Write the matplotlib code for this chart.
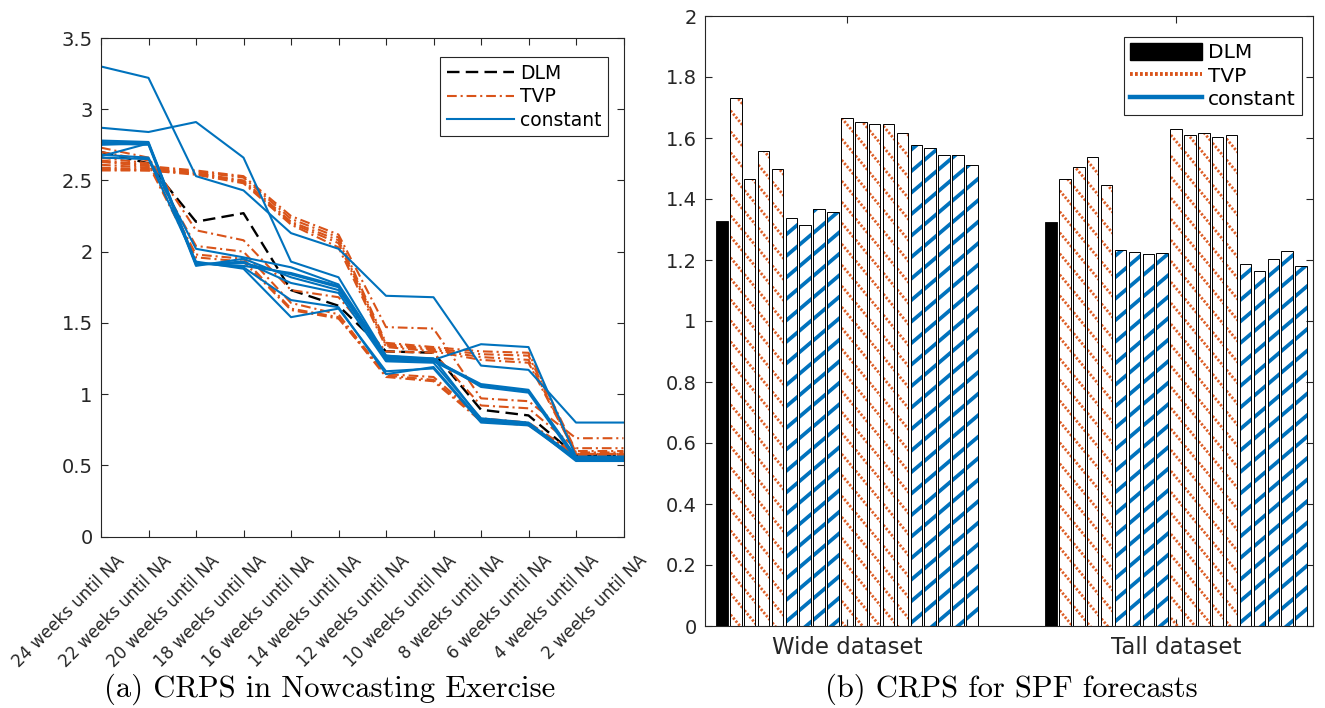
import numpy as np
import matplotlib
matplotlib.use('Agg')
import matplotlib.pyplot as plt
from matplotlib.lines import Line2D
from matplotlib.patches import Patch
from matplotlib.collections import LineCollection
from matplotlib.ticker import FuncFormatter
from matplotlib.transforms import ScaledTranslation

plt.rcParams['font.family'] = ['DejaVu Sans']
plt.rcParams['lines.scale_dashes'] = False

BLUE = '#0072BD'
ORANGE = '#D95319'
AXC = '#262626'

# ---------------- data: panel (a) ----------------
horizons = ['24 weeks until NA', '22 weeks until NA', '20 weeks until NA',
            '18 weeks until NA', '16 weeks until NA', '14 weeks until NA',
            '12 weeks until NA', '10 weeks until NA', '8 weeks until NA',
            '6 weeks until NA', '4 weeks until NA', '2 weeks until NA']

dlm_nowcast = [2.70, 2.62, 2.21, 2.27, 1.73, 1.62, 1.30, 1.29, 0.89, 0.85, 0.57, 0.57]

tvp_nowcast_1 = [2.73, 2.66, 2.15, 2.08, 1.73, 1.68, 1.30, 1.29, 0.92, 0.90, 0.62, 0.62]
tvp_nowcast_2 = [2.70, 2.64, 2.04, 2.00, 1.64, 1.56, 1.13, 1.10, 0.82, 0.79, 0.58, 0.58]
tvp_nowcast_3 = [2.66, 2.62, 1.98, 1.95, 1.60, 1.54, 1.12, 1.09, 0.81, 0.78, 0.57, 0.57]
tvp_nowcast_4 = [2.64, 2.61, 1.96, 1.93, 1.59, 1.53, 1.14, 1.12, 0.83, 0.80, 0.58, 0.58]
tvp_nowcast_5 = [2.63, 2.60, 2.57, 2.53, 2.25, 2.12, 1.47, 1.46, 0.97, 0.95, 0.69, 0.69]
tvp_nowcast_6 = [2.61, 2.59, 2.56, 2.52, 2.23, 2.10, 1.36, 1.33, 1.30, 1.29, 0.60, 0.60]
tvp_nowcast_7 = [2.59, 2.58, 2.55, 2.50, 2.21, 2.08, 1.35, 1.32, 1.28, 1.27, 0.59, 0.59]
tvp_nowcast_8 = [2.58, 2.57, 2.55, 2.49, 2.20, 2.06, 1.34, 1.31, 1.26, 1.24, 0.58, 0.58]
tvp_nowcast_9 = [2.57, 2.57, 2.54, 2.48, 2.19, 2.03, 1.33, 1.30, 1.24, 1.22, 0.58, 0.58]
tvp_nowcast = [tvp_nowcast_1, tvp_nowcast_2, tvp_nowcast_3, tvp_nowcast_4, tvp_nowcast_5,
               tvp_nowcast_6, tvp_nowcast_7, tvp_nowcast_8, tvp_nowcast_9]

const_nowcast_1 = [3.30, 3.22, 2.53, 2.43, 2.13, 2.02, 1.69, 1.68, 1.20, 1.17, 0.80, 0.80]
const_nowcast_2 = [2.87, 2.84, 2.91, 2.66, 1.93, 1.82, 1.27, 1.24, 1.35, 1.33, 0.56, 0.56]
const_nowcast_3 = [2.78, 2.77, 1.92, 1.90, 1.85, 1.76, 1.25, 1.24, 1.07, 1.03, 0.56, 0.56]
const_nowcast_4 = [2.77, 2.76, 1.91, 1.92, 1.84, 1.75, 1.24, 1.23, 1.06, 1.02, 0.55, 0.55]
const_nowcast_5 = [2.76, 2.75, 1.90, 1.95, 1.82, 1.73, 1.26, 1.25, 1.05, 1.01, 0.54, 0.54]
const_nowcast_6 = [2.68, 2.66, 2.02, 1.96, 1.89, 1.77, 1.27, 1.25, 0.82, 0.79, 0.55, 0.55]
const_nowcast_7 = [2.66, 2.65, 1.93, 1.88, 1.54, 1.60, 1.16, 1.18, 0.80, 0.78, 0.54, 0.54]
const_nowcast_8 = [2.67, 2.76, 1.92, 1.89, 1.66, 1.61, 1.14, 1.19, 0.81, 0.79, 0.53, 0.53]
const_nowcast_9 = [2.75, 2.76, 1.91, 1.93, 1.78, 1.71, 1.23, 1.22, 0.83, 0.80, 0.55, 0.55]
const_nowcast = [const_nowcast_1, const_nowcast_2, const_nowcast_3, const_nowcast_4,
                 const_nowcast_5, const_nowcast_6, const_nowcast_7, const_nowcast_8,
                 const_nowcast_9]

# ---------------- data: panel (b) ----------------
datasets = ['Wide dataset', 'Tall dataset']
spf_models = ['DLM'] + ['TVP'] * 4 + ['constant'] * 4 + ['TVP'] * 5 + ['constant'] * 5
wide_crps = [1.327, 1.730, 1.467, 1.557, 1.499, 1.337, 1.315, 1.366, 1.356,
             1.666, 1.651, 1.645, 1.645, 1.615, 1.576, 1.566, 1.543, 1.543, 1.510]
tall_crps = [1.324, 1.464, 1.505, 1.537, 1.446, 1.233, 1.225, 1.219, 1.222,
             1.631, 1.609, 1.615, 1.602, 1.609, 1.186, 1.164, 1.204, 1.230, 1.181]
spf_values = [wide_crps, tall_crps]

W, H = 1325, 708
fig = plt.figure(figsize=(W / 100, H / 100), dpi=100)


def style_axes(ax):
    for s in ax.spines.values():
        s.set_color(AXC)
        s.set_linewidth(0.8)
    ax.tick_params(direction='in', top=True, right=True, length=5, width=0.8,
                   color=AXC, labelcolor=AXC, labelsize=14, pad=6)


# ---------------- panel (a) ----------------
axL = fig.add_axes([101 / W, (H - 536.5) / H, 522.5 / W, 498.5 / H])
xk = np.arange(1, len(horizons) + 1)
axL.plot(xk, dlm_nowcast, color='black', lw=1.7, ls=(0, (9, 4.5)), label='DLM')
for i, s in enumerate(tvp_nowcast):
    axL.plot(xk, s, color=ORANGE, lw=1.5, ls=(0, (7, 2.8, 1.5, 2.8)),
             label='TVP' if i == 0 else None)
for i, s in enumerate(const_nowcast):
    axL.plot(xk, s, color=BLUE, lw=1.5, label='constant' if i == 0 else None)
axL.set_xlim(1, 12)
axL.set_ylim(0, 3.5)
axL.set_yticks(np.arange(0, 3.51, 0.5))
axL.yaxis.set_major_formatter(FuncFormatter(lambda v, p: f'{v:g}'))
axL.set_xticks(xk)
axL.set_xticklabels([])
style_axes(axL)
off = ScaledTranslation(14 / 100, -15 / 100, fig.dpi_scale_trans)
for x, lab in zip(xk, horizons):
    axL.text(x, 0, lab, transform=axL.get_xaxis_transform() + off, rotation=45,
             ha='right', va='top', rotation_mode='anchor', fontsize=12, color=AXC)
legL = axL.legend(loc='upper right', bbox_to_anchor=(0.970, 0.962), borderaxespad=0,
                  fontsize=13.5, handlelength=3.6, fancybox=False, edgecolor=AXC,
                  framealpha=1, borderpad=0.35, labelspacing=0.25, handletextpad=0.3)
legL.get_frame().set_linewidth(0.8)

# ---------------- panel (b) ----------------
axR = fig.add_axes([705 / W, (H - 626) / H, 608 / W, 610 / H])
nb = len(spf_models)
pitch = 0.0422
bw = 0.035
offsets = (np.arange(nb) - (nb - 1) / 2) * pitch

fills = []
for g, vals in enumerate(spf_values):
    for i, (m, v) in enumerate(zip(spf_models, vals)):
        x = g + 1 + offsets[i]
        if m == 'DLM':
            axR.bar(x, v, bw, color='black', edgecolor='black', lw=0.6, zorder=3)
        else:
            b = axR.bar(x, v, bw, color='white', edgecolor='none', zorder=1)[0]
            fills.append((b, m))
            axR.bar(x, v, bw, fill=False, edgecolor='black', lw=0.7, zorder=3)

axR.set_xlim(0.569, 2.416)
axR.set_ylim(0, 2)


def hatch(ax, patch, slope, spacing, **kw):
    x0, y0 = patch.get_x(), patch.get_y()
    w, h = patch.get_width(), patch.get_height()
    (X0, Y0), (X1, Y1) = ax.transData.transform([(x0, y0), (x0 + w, y0 + h)])
    AX0, AY0 = ax.transAxes.transform((0, 0))
    yA = AY0 + slope * (X0 - 2 - AX0)
    yB = AY0 + slope * (X1 + 2 - AX0)
    lo, hi = min(yA, yB), max(yA, yB)
    kmin = int(np.floor((Y0 - hi) / spacing)) - 1
    kmax = int(np.ceil((Y1 - lo) / spacing)) + 1
    inv = ax.transData.inverted()
    segs = [inv.transform([(X0 - 2, yA + k * spacing), (X1 + 2, yB + k * spacing)])
            for k in range(kmin, kmax + 1)]
    lc = LineCollection(segs, zorder=2, **kw)
    ax.add_collection(lc, autolim=False)
    lc.set_clip_path(patch)


for b, m in fills:
    if m == 'TVP':
        hatch(axR, b, -1.2, 21.0, colors='#DD5F28', linewidths=2.0,
              linestyles=[(0, (1.6, 1.3))])
    else:
        hatch(axR, b, 0.85, 21.5, colors=BLUE, linewidths=2.7)

axR.set_xticks([1, 2])
axR.set_xticklabels(datasets)
axR.set_yticks(np.round(np.arange(0, 2.01, 0.2), 1))
axR.yaxis.set_major_formatter(FuncFormatter(lambda v, p: f'{v:g}'))
style_axes(axR)
axR.tick_params(axis='x', labelsize=16.5, pad=7)

handles = [Patch(facecolor='black', edgecolor='black'),
           Line2D([], [], color=ORANGE, lw=2.8, ls=(0, (2, 1.6))),
           Line2D([], [], color=BLUE, lw=3.2)]
legR = axR.legend(handles, ['DLM', 'TVP', 'constant'], loc='upper right',
                  bbox_to_anchor=(0.982, 0.9656), borderaxespad=0, fontsize=14.5,
                  handlelength=3.6, handleheight=0.9, fancybox=False, edgecolor=AXC,
                  framealpha=1, borderpad=0.3, labelspacing=0.2, handletextpad=0.3)
legR.get_frame().set_linewidth(0.8)

# captions
fig.text(329.5 / W, (H - 689) / H, '(a) CRPS in Nowcasting Exercise', ha='center',
         va='center', fontsize=22, family='cmr10', color='black')
fig.text(1011 / W, (H - 689) / H, '(b) CRPS for SPF forecasts', ha='center',
         va='center', fontsize=22, family='cmr10', color='black')

fig.savefig('out.png', dpi=100)
